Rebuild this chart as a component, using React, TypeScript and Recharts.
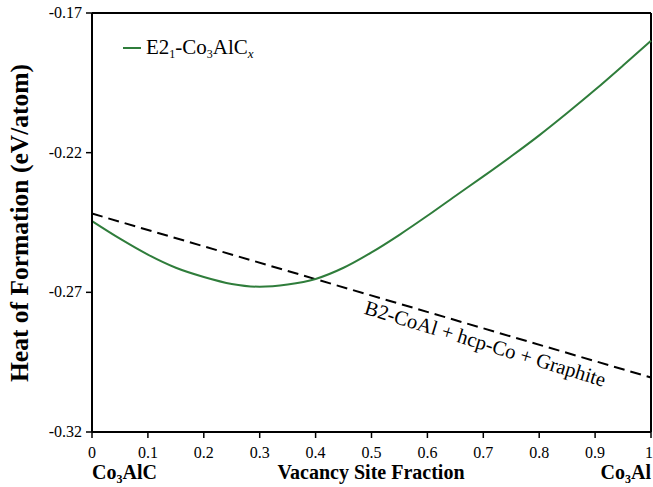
import { LineChart, Line, XAxis, YAxis, ReferenceLine, ReferenceDot } from "recharts";

const fractions = [0, 0.05, 0.1, 0.15, 0.2, 0.25, 0.3, 0.35, 0.4, 0.45, 0.5, 0.55, 0.6, 0.65, 0.7, 0.75, 0.8, 0.85, 0.9, 0.95, 1];
const e21Values = [
    -0.2445, -0.2508, -0.2565, -0.2612, -0.2645, -0.267, -0.268, -0.2672, -0.2652, -0.2612, -0.2557,
    -0.2494, -0.2426, -0.2355, -0.2285, -0.2213, -0.2138, -0.2058, -0.1975, -0.1888, -0.1799,
];
// two-phase tie line, only its end points
const tieFractions = [0, 1];
const tieValues = [-0.2418, -0.3005];

const xTicks = [0, 0.1, 0.2, 0.3, 0.4, 0.5, 0.6, 0.7, 0.8, 0.9, 1];
const yTicks = [-0.32, -0.27, -0.22, -0.17];

const green = "#2f7d3b";
const serif = "'Liberation Serif', 'Times New Roman', serif";

const data = fractions.map((f, i) => {
    const t = tieFractions.indexOf(f);
    return { f, e21: e21Values[i], tie: t >= 0 ? tieValues[t] : null };
});

const boldLabel = {
    position: "absolute" as const,
    fontFamily: serif,
    fontWeight: "bold" as const,
    fontSize: 20,
    lineHeight: "1",
    whiteSpace: "nowrap" as const,
    color: "#000",
};
const sub = { fontSize: 12, position: "relative" as const, top: 4, verticalAlign: "baseline" };

function XTick(p: any) {
    return (
        <text x={p.x} y={p.y + 12} textAnchor="middle" fontFamily={serif} fontSize={16} fill="#000">
            {String(p.payload.value)}
        </text>
    );
}

function YTick(p: any) {
    return (
        <text x={p.x} y={p.y + 5} textAnchor="end" fontFamily={serif} fontSize={16} fill="#000">
            {p.payload.value.toFixed(2)}
        </text>
    );
}

export default function App() {
    return (
        <div style={{ position: "relative", width: 653, height: 487, background: "#fff", fontFamily: serif }}>
            <style>{"body{margin:0}"}</style>
            <LineChart
                width={653}
                height={487}
                data={data}
                margin={{ top: 13, right: 2, left: 0, bottom: 0 }}
            >
                <XAxis
                    dataKey="f"
                    type="number"
                    domain={[0, 1]}
                    ticks={xTicks}
                    height={55}
                    tick={<XTick />}
                    tickSize={6}
                    tickMargin={8}
                    axisLine={{ stroke: "#000", strokeWidth: 2 }}
                    tickLine={{ stroke: "#000", strokeWidth: 1.5 }}
                />
                <YAxis
                    type="number"
                    domain={[-0.32, -0.17]}
                    ticks={yTicks}
                    width={92}
                    tick={<YTick />}
                    tickSize={6}
                    tickMargin={4}
                    axisLine={{ stroke: "#000", strokeWidth: 2 }}
                    tickLine={{ stroke: "#000", strokeWidth: 1.5 }}
                />
                <ReferenceLine y={-0.17} stroke="#000" strokeWidth={2} />
                <ReferenceLine x={1} stroke="#000" strokeWidth={2} />
                <Line
                    dataKey="tie"
                    type="linear"
                    stroke="#000"
                    strokeWidth={2}
                    strokeDasharray="11 6"
                    dot={false}
                    connectNulls
                    isAnimationActive={false}
                />
                <Line
                    dataKey="e21"
                    type="monotone"
                    stroke={green}
                    strokeWidth={2}
                    dot={false}
                    isAnimationActive={false}
                />
                <ReferenceDot
                    x={0.7}
                    y={-0.2907}
                    r={0}
                    shape={(p: any) => (
                        <text
                            x={p.cx}
                            y={p.cy}
                            textAnchor="middle"
                            transform={`rotate(17 ${p.cx} ${p.cy})`}
                            fontFamily={serif}
                            fontSize={20.5}
                            fill="#000"
                        >
                            B2-CoAl + hcp-Co + Graphite
                        </text>
                    )}
                />
            </LineChart>

            {/* legend */}
            <div style={{ position: "absolute", left: 123, top: 47, width: 18, height: 2, background: green }} />
            <div
                style={{
                    position: "absolute",
                    left: 146,
                    top: 37,
                    fontFamily: serif,
                    fontSize: 21,
                    lineHeight: "1",
                    whiteSpace: "nowrap",
                }}
            >
                E2<span style={sub}>1</span>-Co<span style={sub}>3</span>AlC
                <span style={{ ...sub, fontSize: 13, fontStyle: "italic" }}>x</span>
            </div>

            {/* axis titles */}
            <div style={{ ...boldLabel, left: 92, top: 462 }}>
                Co<span style={sub}>3</span>AlC
            </div>
            <div style={{ ...boldLabel, left: 371, top: 462, transform: "translateX(-50%)" }}>
                Vacancy Site Fraction
            </div>
            <div style={{ ...boldLabel, right: 2, top: 462 }}>
                Co<span style={sub}>3</span>Al
            </div>
            <div
                style={{
                    ...boldLabel,
                    fontSize: 25.5,
                    left: 20,
                    top: 223,
                    transform: "translate(-50%, -50%) rotate(-90deg)",
                }}
            >
                Heat of Formation (eV/atom)
            </div>
        </div>
    );
}
